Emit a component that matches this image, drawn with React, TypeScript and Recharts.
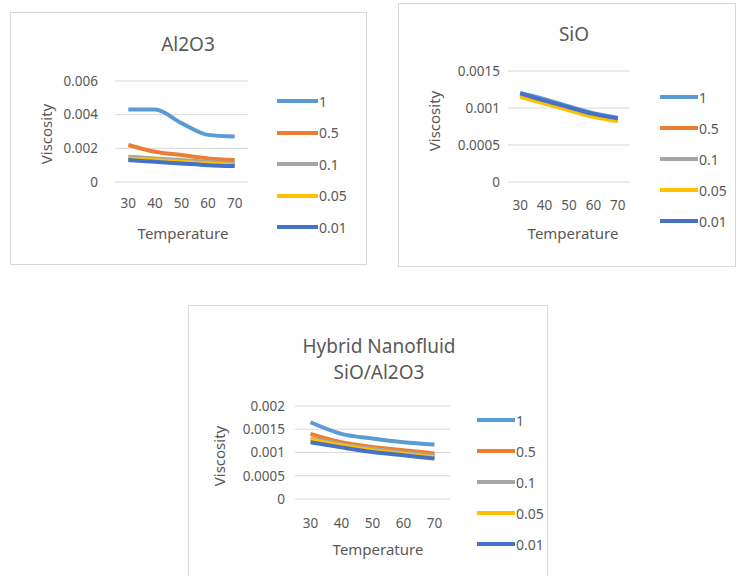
import React from 'react'
import { CartesianGrid, Legend, Line, LineChart, XAxis, YAxis } from 'recharts'

// categories and series names shared by the three panels
const temps = [30, 40, 50, 60, 70]
const seriesNames = ['1', '0.5', '0.1', '0.05', '0.01']
const seriesColors = ['#5B9BD5', '#ED7D31', '#A5A5A5', '#FFC000', '#4472C4']

// Al2O3 viscosity per concentration
const al2o3_1 = [0.0043, 0.0043, 0.0035, 0.0028, 0.0027]
const al2o3_05 = [0.0022, 0.0018, 0.0016, 0.0014, 0.0013]
const al2o3_01 = [0.0015, 0.0014, 0.0013, 0.0012, 0.0011]
const al2o3_005 = [0.0014, 0.0013, 0.0012, 0.0011, 0.001]
const al2o3_001 = [0.0013, 0.0012, 0.0011, 0.001, 0.00095]
const al2o3Ticks = [0, 0.002, 0.004, 0.006]
const al2o3TickLabels = ['0', '0.002', '0.004', '0.006']

// SiO viscosity per concentration
const sio_1 = [0.0012, 0.00112, 0.00102, 0.00093, 0.00087]
const sio_05 = [0.00118, 0.0011, 0.001, 0.0009, 0.00084]
const sio_01 = [0.00117, 0.00108, 0.00099, 0.0009, 0.00083]
const sio_005 = [0.00115, 0.00106, 0.00097, 0.00088, 0.00082]
const sio_001 = [0.0012, 0.0011, 0.00101, 0.00092, 0.00086]
const sioTicks = [0, 0.0005, 0.001, 0.0015]
const sioTickLabels = ['0', '0.0005', '0.001', '0.0015']

// hybrid SiO/Al2O3 viscosity per concentration
const hyb_1 = [0.00165, 0.0014, 0.0013, 0.00122, 0.00117]
const hyb_05 = [0.0014, 0.00122, 0.00112, 0.00105, 0.00098]
const hyb_01 = [0.0013, 0.00118, 0.00108, 0.001, 0.00093]
const hyb_005 = [0.00128, 0.00115, 0.00105, 0.00097, 0.0009]
const hyb_001 = [0.00122, 0.00111, 0.00101, 0.00094, 0.00087]
const hybTicks = [0, 0.0005, 0.001, 0.0015, 0.002]
const hybTickLabels = ['0', '0.0005', '0.001', '0.0015', '0.002']

const FONT = '"Noto Sans", "Open Sans", sans-serif'
const TEXT = '#595959'

const buildRows = (series: number[][]) =>
  temps.map((t, i) => {
    const row: { [k: string]: number } = { temp: t }
    seriesNames.forEach((n, j) => (row[n] = series[j][i]))
    return row
  })

type PanelProps = {
  left: number
  top: number
  width: number
  height: number
  margin: { top: number; right: number; bottom: number; left: number }
  band: number
  yTickMargin: number
  xTickMargin: number
  ticks: number[]
  tickLabels: string[]
  series: number[][]
  title: string[]
  titleX: number
  titleY: number
  yTitle: { x: number; y: number }
  xTitle: { x: number; y: number }
  legend: { x: number; y: number; line: number; row: number }
}

const Panel = (p: PanelProps) => {
  const data = buildRows(p.series)
  const labelFor = (v: number) => p.tickLabels[p.ticks.indexOf(v)] ?? String(v)

  const renderLegend = (props: any) => {
    const payload: any[] = props.payload || []
    return (
      <div style={{ fontFamily: FONT, fontSize: 14, color: TEXT }}>
        {seriesNames.map((n, i) => {
          const item = payload.find((e) => e.value === n || e.dataKey === n)
          return (
            <div key={n} style={{ height: p.legend.row, display: 'flex', alignItems: 'center' }}>
              <span style={{ display: 'inline-block', width: p.legend.line, height: 4, background: item?.color || seriesColors[i] }} />
              <span style={{ marginLeft: 1 }}>{n}</span>
            </div>
          )
        })}
      </div>
    )
  }

  return (
    <div style={{ position: 'absolute', left: p.left, top: p.top, width: p.width, height: p.height, border: '1px solid #d9d9d9', boxSizing: 'border-box', background: '#fff' }}>
      <div style={{ position: 'absolute', left: -1, top: -1 }}>
        <LineChart width={p.width} height={p.height} data={data} margin={p.margin}>
          <CartesianGrid vertical={false} stroke='#d9d9d9' />
          <XAxis
            dataKey='temp'
            height={30}
            padding={{ left: p.band / 2, right: p.band / 2 }}
            axisLine={false}
            tickLine={false}
            tickSize={0}
            tickMargin={p.xTickMargin}
            tick={{ fill: TEXT, fontSize: 13.5, fontFamily: FONT }}
          />
          <YAxis
            width={60}
            domain={[p.ticks[0], p.ticks[p.ticks.length - 1]]}
            ticks={p.ticks}
            tickFormatter={labelFor}
            axisLine={false}
            tickLine={false}
            tickSize={0}
            tickMargin={p.yTickMargin}
            tick={{ fill: TEXT, fontSize: 13.5, fontFamily: FONT }}
          />
          <Legend
            layout='horizontal'
            verticalAlign='middle'
            align='center'
            wrapperStyle={{ left: p.legend.x, top: p.legend.y - p.legend.row / 2, width: 80 }}
            content={renderLegend}
          />
          {seriesNames.map((n, i) => (
            <Line key={n} type='monotone' dataKey={n} name={n} stroke={seriesColors[i]} strokeWidth={4} dot={false} isAnimationActive={false} />
          ))}
        </LineChart>
      </div>
      <div style={{ position: 'absolute', left: p.titleX, top: p.titleY, transform: 'translate(-50%, -50%)', textAlign: 'center', fontFamily: FONT, fontSize: 19, lineHeight: '26px', color: TEXT, whiteSpace: 'nowrap' }}>
        {p.title.map((t) => (
          <div key={t}>{t}</div>
        ))}
      </div>
      <div style={{ position: 'absolute', left: p.yTitle.x, top: p.yTitle.y, transform: 'translate(-50%, -50%) rotate(-90deg)', fontFamily: FONT, fontSize: 15, color: TEXT, whiteSpace: 'nowrap' }}>
        Viscosity
      </div>
      <div style={{ position: 'absolute', left: p.xTitle.x, top: p.xTitle.y, transform: 'translate(-50%, -50%)', fontFamily: FONT, fontSize: 15, color: TEXT, whiteSpace: 'nowrap' }}>
        Temperature
      </div>
    </div>
  )
}

export default function App() {
  return (
    <div style={{ position: 'absolute', left: 0, top: 0, width: 737, height: 576, overflow: 'hidden', background: '#fff' }}>
      <Panel
        left={10}
        top={12}
        width={357}
        height={253}
        margin={{ top: 69, right: 119, bottom: 53, left: 45 }}
        band={26.6}
        yTickMargin={17}
        xTickMargin={16}
        ticks={al2o3Ticks}
        tickLabels={al2o3TickLabels}
        series={[al2o3_1, al2o3_05, al2o3_01, al2o3_005, al2o3_001]}
        title={['Al2O3']}
        titleX={177}
        titleY={31}
        yTitle={{ x: 35, y: 121 }}
        xTitle={{ x: 172, y: 220 }}
        legend={{ x: 267, y: 89, line: 41, row: 31.5 }}
      />
      <Panel
        left={398}
        top={3}
        width={338}
        height={264}
        margin={{ top: 68, right: 106, bottom: 55, left: 50 }}
        band={24.4}
        yTickMargin={8}
        xTickMargin={18}
        ticks={sioTicks}
        tickLabels={sioTickLabels}
        series={[sio_1, sio_05, sio_01, sio_005, sio_001]}
        title={['SiO']}
        titleX={175}
        titleY={30}
        yTitle={{ x: 35, y: 117 }}
        xTitle={{ x: 174, y: 229 }}
        legend={{ x: 262, y: 94, line: 38, row: 31 }}
      />
      <Panel
        left={188}
        top={305}
        width={360}
        height={280}
        margin={{ top: 101, right: 98, bottom: 56, left: 47 }}
        band={31}
        yTickMargin={10}
        xTickMargin={19}
        ticks={hybTicks}
        tickLabels={hybTickLabels}
        series={[hyb_1, hyb_05, hyb_01, hyb_005, hyb_001]}
        title={['Hybrid Nanofluid', 'SiO/Al2O3']}
        titleX={190}
        titleY={53}
        yTitle={{ x: 30, y: 150 }}
        xTitle={{ x: 189, y: 243 }}
        legend={{ x: 289, y: 115, line: 38, row: 31 }}
      />
    </div>
  )
}
